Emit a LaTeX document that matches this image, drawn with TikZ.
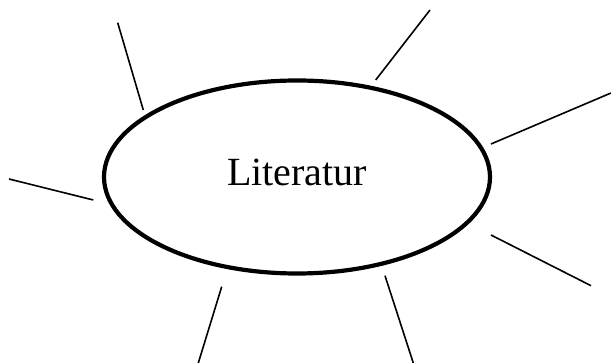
\documentclass[tikz,border=0pt]{standalone}
\usepackage{fontspec}
\setmainfont{Liberation Serif}
\usetikzlibrary{shapes.geometric}
\begin{document}
\begin{tikzpicture}[x=1pt,y=-1pt,
  ray/.style={line width=1.6pt},
  hub/.style={ellipse, draw, line width=4.2pt, minimum width=386pt, minimum height=193pt, inner sep=0pt}]
\useasboundingbox (0,0) rectangle (611,363);
\node[hub] (c) at (297,177) {};
\node[font=\fontsize{40}{48}\selectfont, inner sep=0pt] (t) at (297,172) {Literatur};
\coordinate (a1) at (117.7,22.7); \coordinate (b1) at (143.3,110);
\coordinate (a2) at (430,10); \coordinate (b2) at (375.7,80);
\coordinate (a3) at (611,93); \coordinate (b3) at (491,144);
\coordinate (a4) at (9,179); \coordinate (b4) at (93.3,200);
\coordinate (a5) at (591,285.7); \coordinate (b5) at (491,235);
\coordinate (a6) at (198.3,363); \coordinate (b6) at (221.7,286.7);
\coordinate (a7) at (413.3,363); \coordinate (b7) at (385,275.7);
\foreach \i in {1,...,7} \draw[ray] (a\i) -- (b\i);
\end{tikzpicture}
\end{document}
